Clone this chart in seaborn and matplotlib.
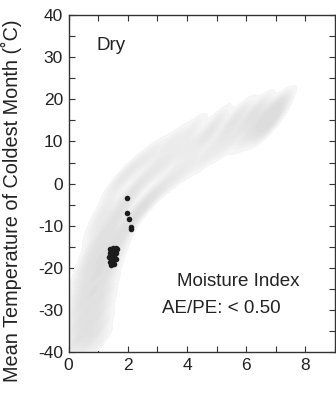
import matplotlib
matplotlib.use("Agg")
import matplotlib.pyplot as plt
import seaborn as sns
import pandas as pd
from matplotlib.colors import LinearSegmentedColormap
from matplotlib.ticker import MultipleLocator

# Background (all sites) cloud
bg_x = [0.2, 0.6, 1.0, 0.25, 0.65, 1.05, 0.3, 0.7, 1.1, 0.4, 0.8, 1.2,
        0.5, 0.9, 1.3, 0.7, 1.1, 1.5, 0.9, 1.3, 1.7, 1.0, 1.5, 2.0,
        1.2, 1.8, 2.4,
        1.6, 2.1, 2.7, 2.2, 2.7, 3.3, 2.8, 3.3, 3.9, 3.5, 4.0, 4.6,
        4.2, 4.7, 5.3, 5.0, 5.4, 6.0, 5.8, 6.1, 6.6, 6.4, 6.6, 6.9,
        7.1, 6.9]
bg_y = [-38, -38, -38, -34, -34, -34, -30, -30, -30, -26, -26, -26,
        -22, -22, -22, -18, -18, -18, -14, -14, -14, -10, -10, -10,
        -6, -6, -6,
        0, -2, -4, 4, 2, 0, 7, 5, 3, 10, 8, 6,
        13, 11, 9, 15, 13, 11, 17, 15, 13, 18, 16, 14.5,
        18.5, 16.8]

# Dry sites (AE/PE < 0.50)
dry_x = [1.98, 1.98, 2.03, 2.10, 2.12,
         1.40, 1.50, 1.60, 1.65, 1.40, 1.50, 1.60, 1.35, 1.45, 1.55,
         1.60, 1.40, 1.50, 1.55, 1.45, 1.50, 1.45]
dry_y = [-3.4, -7.0, -8.3, -10.3, -10.8,
         -15.5, -15.3, -15.2, -15.6, -16.5, -16.3, -16.5, -17.5, -17.5, -17.2,
         -17.8, -18.5, -18.5, -19.2, -19.4, -18.0, -16.0]

x_ticks = [0, 2, 4, 6, 8]
y_ticks = [-40, -30, -20, -10, 0, 10, 20, 30, 40]

sns.set_theme(style="white")
plt.rcParams['font.family'] = ['Liberation Sans', 'DejaVu Sans']
plt.rcParams['axes.unicode_minus'] = False

bg = pd.DataFrame({"x": bg_x, "y": bg_y})
dry = pd.DataFrame({"x": dry_x, "y": dry_y})

fig = plt.figure(figsize=(3.36, 4.08), dpi=100)
ax = fig.add_axes([0.204, 0.137, 0.793, 0.826])

greys = LinearSegmentedColormap.from_list("g", ["#f7f7f7", "#e2e2e2", "#dadada"])
sns.kdeplot(data=bg, x="x", y="y", ax=ax, fill=True, cmap=greys,
            levels=14, thresh=0.08, bw_adjust=0.36)
sns.scatterplot(data=dry, x="x", y="y", ax=ax, s=16, color="#1c1c1c",
                linewidth=0, legend=False)

ax.set_xlim(0, 9)
ax.set_ylim(-40, 40)
ax.set_xticks(x_ticks)
ax.set_yticks(y_ticks)
ax.xaxis.set_minor_locator(MultipleLocator(1))
ax.yaxis.set_minor_locator(MultipleLocator(5))
ax.tick_params(which='both', direction='in', top=True, right=True,
               bottom=True, left=True, length=4, width=0.8, color='#333333')
ax.tick_params(which='major', labelsize=12.5, labelcolor='#222222', pad=4)
ax.set_xlabel("")
ax.set_ylabel("Mean Temperature of Coldest Month (\u02daC)", fontsize=14.3,
              color='#222222')
ax.yaxis.set_label_coords(-0.175, 0.45)
for sp in ax.spines.values():
    sp.set_color('#333333')
    sp.set_linewidth(1.0)

ax.text(0.96, 31.7, "Dry", fontsize=13.5, color='#222222', ha='left', va='baseline')
ax.text(3.67, -24.4, "Moisture Index", fontsize=13.5, color='#222222', ha='left', va='baseline')
ax.text(3.16, -30.8, "AE/PE: < 0.50", fontsize=13.5, color='#222222', ha='left', va='baseline')

fig.savefig("out.png", dpi=100)
